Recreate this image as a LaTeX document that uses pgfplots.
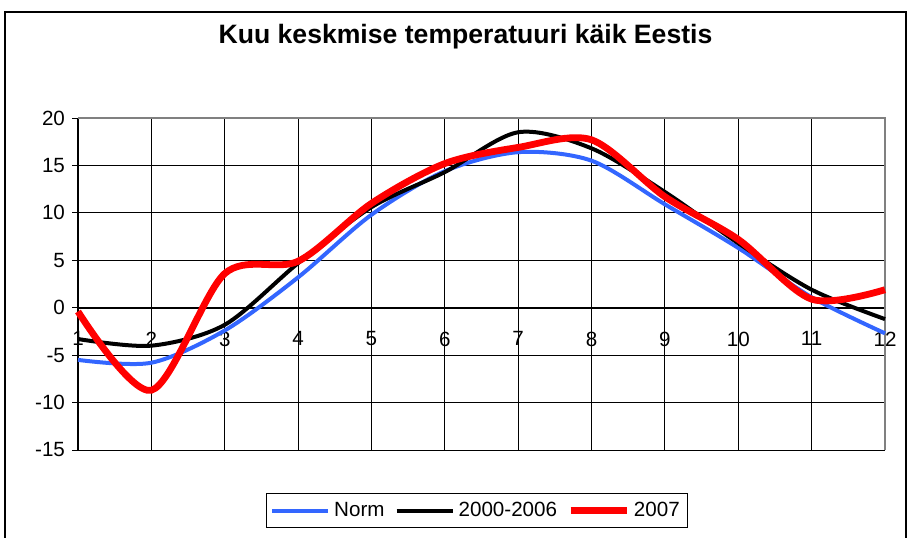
\documentclass[border=0pt]{standalone}
\usepackage{pgfplots}
\pgfplotsset{compat=1.18}
\usepackage{fontspec}
\setmainfont{Liberation Sans}
\definecolor{normblue}{RGB}{51,102,255}
\begin{document}
\begin{tikzpicture}
\useasboundingbox (0,0) rectangle (454pt,268.5pt);
\clip (0,0) rectangle (454pt,268.5pt);
\draw[black, line width=0.7pt] (2.5pt,-5pt) -- (2.5pt,262.5pt) -- (453pt,262.5pt) -- (453pt,-5pt);
\node[font=\bfseries\fontsize{13.3}{16}\selectfont] at (232.75pt,250pt) {Kuu keskmise temperatuuri käik Eestis};
\begin{axis}[
  at={(39pt,43.5pt)}, anchor=south west,
  width=403.5pt, height=166pt, scale only axis,
  xmin=1, xmax=12, ymin=-15, ymax=20,
  xtick={1,...,12}, ytick={-15,-10,...,20},
  axis x line=middle, axis y line=left,
  hide obscured x ticks=false, hide obscured y ticks=false,
  axis line style={-, black, line width=0.8pt},
  grid=major, grid style={black, line width=0.5pt},
  tick style={black, line width=0.5pt},
  major tick length=3pt,
  tick align=outside,
  tick label style={font=\fontsize{10.3}{12}\selectfont},
  /pgf/number format/assume math mode=true,
  xticklabel style={yshift=-5.5pt},
  clip=false,
  legend columns=3,
  legend style={at={(0.4944,-0.1822)}, anchor=center, draw=black, line width=0.5pt,
    font=\fontsize{10.3}{12}\selectfont, inner xsep=2pt, inner ysep=2pt,
    /tikz/every even column/.append style={column sep=3pt}},
  legend image code/.code={\draw[#1] (0pt,0pt) -- (28pt,0pt);},
]
\draw[gray, line width=0.8pt] (rel axis cs:0,1) -- (rel axis cs:1,1) -- (rel axis cs:1,0);
\addplot[normblue, line width=2pt, smooth] coordinates {
(1,-5.5) (2,-5.8) (3,-2.4) (4,3.2) (5,9.8) (6,14.4) (7,16.4) (8,15.5) (9,10.9) (10,6.3) (11,1.1) (12,-2.7)};
\addlegendentry{Norm}
\addplot[black, line width=2pt, smooth] coordinates {
(1,-3.3) (2,-4.0) (3,-1.8) (4,4.7) (5,10.6) (6,14.3) (7,18.5) (8,16.8) (9,12.2) (10,6.8) (11,1.9) (12,-1.2)};
\addlegendentry{2000-2006}
\addplot[red, line width=3.4pt, smooth] coordinates {
(1,-0.4) (2,-8.7) (3,3.6) (4,4.9) (5,11.0) (6,15.2) (7,16.9) (8,17.7) (9,11.7) (10,7.2) (11,0.9) (12,1.9)};
\addlegendentry{2007}
\end{axis}
\end{tikzpicture}
\end{document}
